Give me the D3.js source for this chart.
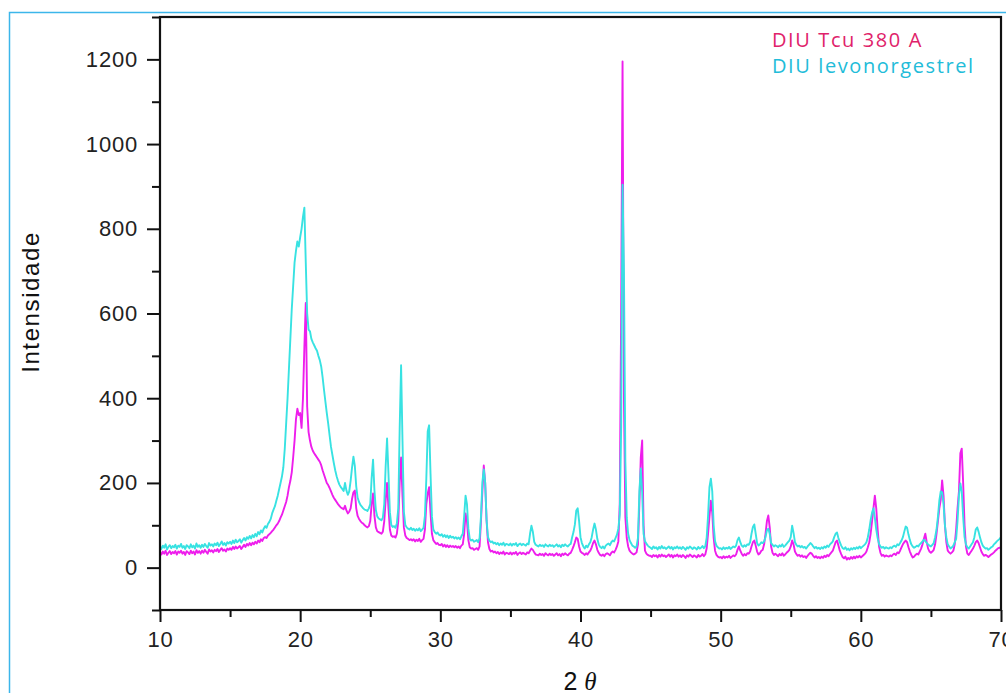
<!DOCTYPE html>
<html>
<head>
<meta charset="utf-8">
<script src="https://cdn.jsdelivr.net/npm/d3@7"></script>
<style>
  html, body { margin: 0; padding: 0; background: #fff; }
  svg { display: block; }
</style>
</head>
<body>
<svg id="chart" width="1006" height="693"></svg>
<script>
// X-ray diffraction patterns, 2θ from 10° to 70° in 0.1° steps.
const startAngle = 10;
const stepAngle = 0.1;

// DIU Tcu 380 A — counts per step (one row per degree)
const tcuCounts = [
  36,31,38,33,40,30,35,39,32,37,
  34,39,31,38,35,40,33,37,30,39,
  36,32,40,34,38,31,41,35,39,33,
  40,35,42,37,33,43,38,41,36,42,
  39,44,37,42,46,40,43,38,45,42,
  46,42,49,44,50,45,48,51,44,49,
  54,49,56,52,58,53,59,55,61,57,
  64,60,67,63,70,72,70,76,79,82,
  86,90,95,100,104,110,118,125,135,145,
  155,170,190,205,225,260,300,350,375,360,
  365,330,400,520,625,380,320,300,285,276,
  270,265,260,255,250,242,230,220,210,200,
  195,188,180,172,165,160,155,150,146,142,
  140,138,146,135,128,132,140,162,178,182,
  140,122,115,110,106,104,100,97,95,98,
  110,150,175,122,95,86,84,82,80,85,
  110,160,200,140,90,76,73,74,71,80,
  110,200,260,170,95,76,70,68,65,67,
  64,67,62,66,63,68,61,65,68,90,
  150,175,190,130,80,65,60,56,58,54,
  53,56,50,54,49,53,48,52,49,51,
  48,51,47,50,46,52,55,80,128,110,
  65,48,45,46,42,44,46,42,50,110,
  180,241,200,110,60,44,38,40,36,38,
  34,37,32,36,33,38,31,35,34,32,
  36,31,35,33,37,30,34,36,32,35,
  33,31,36,34,40,45,42,36,31,30,
  29,33,30,32,28,34,31,29,33,30,
  32,28,31,34,29,32,27,33,30,34,
  31,29,33,35,42,50,60,71,68,50,
  38,35,33,30,34,31,36,40,48,58,
  64,55,42,35,30,28,31,27,32,34,
  32,29,35,38,36,42,50,62,150,600,
  1195,400,120,70,50,40,36,33,31,33,
  36,55,150,260,300,100,40,33,30,28,
  28,25,30,27,29,24,30,26,31,27,
  29,25,28,31,26,30,24,29,27,31,
  26,29,25,30,27,23,29,26,31,28,
  25,29,27,24,30,26,28,32,27,31,
  45,80,120,158,130,70,40,30,26,24,
  25,22,27,23,26,24,28,23,26,29,
  27,31,42,50,40,33,28,32,29,34,
  33,38,50,60,64,52,38,31,34,40,
  42,55,80,110,123,95,50,35,30,33,
  30,27,32,29,34,28,31,35,38,42,
  50,64,55,38,32,28,30,26,29,25,
  27,23,28,32,35,33,28,24,27,23,
  25,22,26,23,28,25,30,27,32,36,
  40,50,60,64,52,40,32,25,22,26,
  19,23,20,25,21,26,22,27,24,28,
  24,27,30,33,38,48,60,80,110,140,
  170,140,90,50,35,28,30,26,29,27,
  26,29,27,31,33,30,36,34,40,48,
  55,60,64,60,48,38,30,24,26,30,
  33,31,38,45,55,68,80,60,45,38,
  35,38,42,55,80,110,140,160,206,170,
  100,60,40,36,33,36,40,55,90,140,
  180,270,281,200,100,50,33,30,35,40,
  45,52,60,64,58,48,38,32,28,30,
  28,25,28,31,33,36,40,43,46,47,
  48
];

// DIU levonorgestrel — counts per step (one row per degree)
const lngCounts = [
  50,44,52,47,55,43,49,53,46,51,
  48,54,45,52,49,56,47,51,44,53,
  50,46,55,48,52,45,57,49,53,47,
  54,49,56,51,47,58,52,55,50,57,
  53,59,51,56,62,54,58,52,60,57,
  61,56,64,58,66,60,63,67,59,65,
  70,64,72,68,75,69,77,72,80,74,
  84,79,88,83,92,98,94,103,108,115,
  128,137,145,158,170,185,200,215,237,280,
  340,400,470,540,610,665,720,748,770,758,
  780,800,828,850,720,600,562,558,540,532,
  525,518,512,500,490,475,450,420,392,365,
  340,312,285,266,247,230,216,205,196,190,
  186,181,200,182,172,180,205,236,262,240,
  192,165,155,148,144,140,137,136,134,140,
  150,212,255,182,136,121,116,114,112,118,
  150,240,305,222,131,101,96,98,94,105,
  140,330,478,300,132,101,95,92,90,94,
  89,92,87,91,88,93,86,90,94,122,
  210,322,336,222,121,90,84,80,83,78,
  76,79,73,77,72,76,70,75,71,73,
  69,72,68,71,67,74,80,122,170,150,
  92,68,64,66,61,63,65,60,70,121,
  202,232,200,112,72,64,60,62,57,59,
  55,58,53,57,54,59,52,56,55,53,
  57,52,56,54,58,51,55,57,53,56,
  54,52,57,55,80,99,85,61,54,52,
  50,54,51,53,49,55,52,50,54,51,
  53,49,52,55,50,53,48,54,51,55,
  52,50,54,56,71,84,102,135,140,110,
  72,58,50,45,52,48,55,60,72,90,
  104,90,68,55,49,46,50,45,52,55,
  57,53,60,64,62,70,78,92,125,330,
  904,700,250,118,80,65,58,52,50,47,
  50,70,180,234,178,80,62,57,52,49,
  47,44,50,46,48,43,49,45,51,46,
  48,44,47,50,45,49,43,48,46,50,
  45,48,44,49,46,42,48,45,50,47,
  44,48,46,43,49,45,47,51,46,50,
  70,122,190,210,180,100,62,52,48,45,
  46,43,48,44,47,45,49,44,47,50,
  48,52,65,71,60,52,49,53,50,55,
  54,60,80,96,102,80,58,52,55,60,
  58,62,72,88,92,80,58,54,50,53,
  51,48,53,50,55,49,52,56,60,64,
  72,99,82,60,54,50,52,48,51,47,
  49,45,50,54,58,55,50,46,49,45,
  47,44,48,45,50,47,52,49,55,58,
  62,72,80,83,70,60,52,46,44,48,
  42,45,41,46,43,47,44,48,45,50,
  46,49,52,55,60,72,90,112,130,140,
  118,90,70,56,50,47,49,45,48,46,
  45,48,46,50,52,49,55,53,58,64,
  72,85,97,94,78,65,55,50,47,49,
  52,50,55,58,62,66,63,58,55,52,
  50,54,58,72,90,120,158,180,178,150,
  100,72,55,50,45,48,52,60,68,110,
  170,199,180,120,72,55,48,45,50,55,
  60,72,90,95,85,72,60,52,48,45,
  46,42,45,48,50,55,58,62,65,68,
  72
];

const xMajorTicks = [10, 20, 30, 40, 50, 60, 70];
const xMinorTicks = [15, 25, 35, 45, 55, 65];
const yMajorTicks = [0, 200, 400, 600, 800, 1000, 1200];
const yMinorTicks = [-100, 100, 300, 500, 700, 900, 1100, 1300];

const seriesNames = ["DIU Tcu 380 A", "DIU levonorgestrel"];
const lineColors = ["#ee1eec", "#38e2e2"];
const legendColors = ["#e0226a", "#22bcd9"];

const svg = d3.select("#chart");

// outer figure frame
svg.append("rect")
  .attr("x", 9.5).attr("y", 12.5)
  .attr("width", 1010).attr("height", 700)
  .attr("fill", "none")
  .attr("stroke", "#3cb6ea")
  .attr("stroke-width", 1.5);

const x = d3.scaleLinear().domain([10, 70]).range([160, 1001]);
const y = d3.scaleLinear().domain([-100, 1300]).range([610, 17]);

const angleAt = i => startAngle + i * stepAngle;
const line = d3.line()
  .x((d, i) => x(angleAt(i)))
  .y(d => y(d));

const plot = svg.append("g");
[tcuCounts, lngCounts].forEach((counts, k) => {
  plot.append("path")
    .datum(counts)
    .attr("d", line)
    .attr("fill", "none")
    .attr("stroke", lineColors[k])
    .attr("stroke-width", 1.9)
    .attr("stroke-linejoin", "round");
});

// axes
const tickFont = "'Liberation Sans', Arial, sans-serif";

const yAxis = svg.append("g").attr("transform", "translate(160,0)")
  .call(d3.axisLeft(y).tickValues(yMajorTicks).tickSize(13).tickPadding(9).tickFormat(d3.format("d")));
const yMinor = svg.append("g").attr("transform", "translate(160,0)")
  .call(d3.axisLeft(y).tickValues(yMinorTicks).tickSize(8).tickFormat(""));
const xAxis = svg.append("g").attr("transform", "translate(0,610)")
  .call(d3.axisBottom(x).tickValues(xMajorTicks).tickSize(12).tickPadding(9).tickFormat(d3.format("d")));
const xMinor = svg.append("g").attr("transform", "translate(0,610)")
  .call(d3.axisBottom(x).tickValues(xMinorTicks).tickSize(7).tickFormat(""));

[yAxis, yMinor, xAxis, xMinor].forEach(g => {
  g.select(".domain").remove();
  g.selectAll(".tick line").attr("stroke", "#111").attr("stroke-width", 2);
  g.selectAll(".tick text")
    .attr("fill", "#222")
    .style("font-family", tickFont)
    .style("font-size", "22px")
    .style("letter-spacing", "0.8px");
});

// plot box
svg.append("rect")
  .attr("x", 160).attr("y", 17)
  .attr("width", 1001 - 160).attr("height", 610 - 17)
  .attr("fill", "none")
  .attr("stroke", "#111")
  .attr("stroke-width", 2.2);

// axis titles
svg.append("text")
  .attr("transform", "translate(39,302) rotate(-90)")
  .attr("text-anchor", "middle")
  .style("font-family", tickFont)
  .style("font-size", "24px")
  .style("letter-spacing", "1.6px")
  .attr("fill", "#111")
  .text("Intensidade");

const xTitle = svg.append("text")
  .attr("x", 580).attr("y", 690)
  .attr("text-anchor", "middle")
  .style("font-family", tickFont)
  .style("font-size", "25px")
  .attr("fill", "#111");
xTitle.append("tspan").text("2 ");
xTitle.append("tspan").style("font-style", "italic").style("font-family", "'Liberation Serif', serif").text("θ");

// legend
const legend = svg.append("g");
seriesNames.forEach((name, i) => {
  legend.append("text")
    .attr("x", 772).attr("y", 47 + i * 26)
    .style("font-family", "'Open Sans', sans-serif")
    .style("font-size", "20px")
    .style("letter-spacing", "1.6px")
    .attr("fill", legendColors[i])
    .text(name);
});
</script>
</body>
</html>
